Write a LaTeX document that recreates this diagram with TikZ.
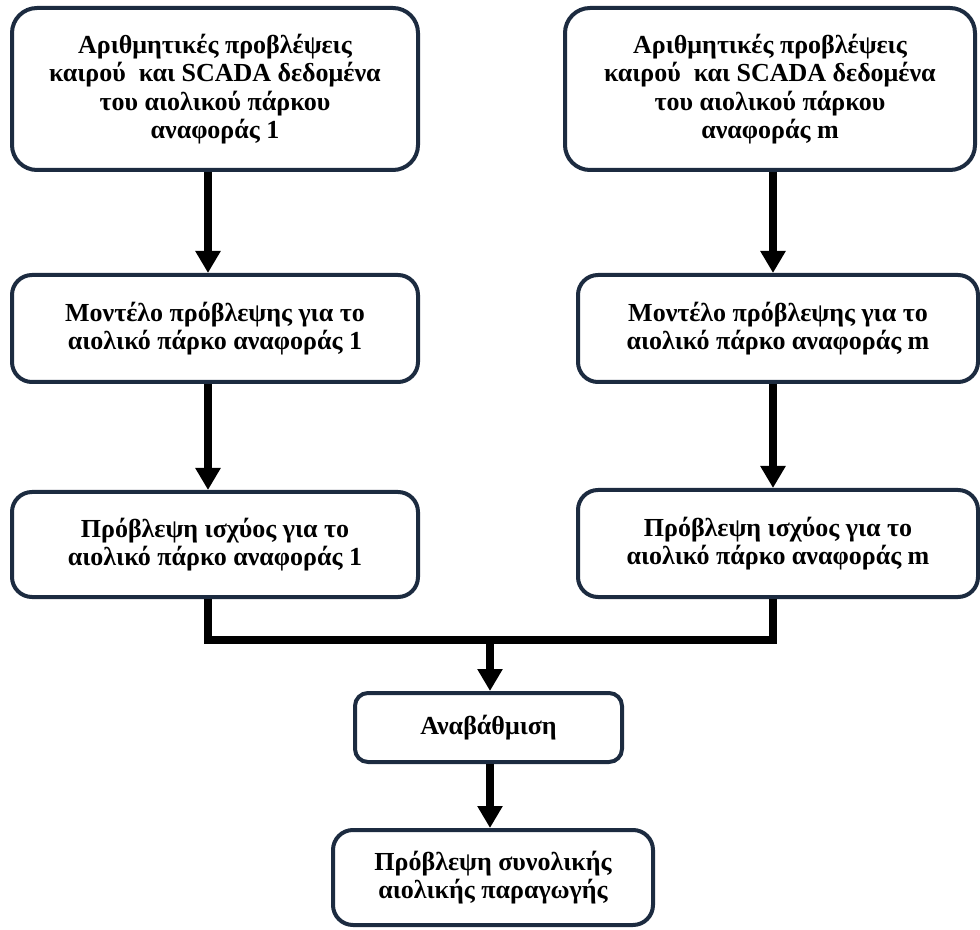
\documentclass[tikz,border=0pt]{standalone}
\usepackage{fontspec}
\setmainfont{Liberation Serif}
\usetikzlibrary{arrows.meta,calc}
\definecolor{boxline}{HTML}{1C2B40}
\begin{document}
\begin{tikzpicture}[x=0.5pt,y=-0.5pt,
  box/.style={draw=boxline, line width=2pt, fill=white, align=center,
    font=\bfseries\fontsize{13}{14.2}\selectfont, inner sep=0pt},
  flow/.style={line width=4pt, -{Triangle[length=11pt,width=12pt]}},
  busline/.style={line width=4pt, line join=miter}]
\useasboundingbox (0,0) rectangle (980,930);

% input data boxes
\node[box, rounded corners=12.5pt, minimum width=203pt, minimum height=81pt] (A1) at (215,89)
  {Αριθμητικές προβλέψεις\\καιρού \ και SCADA δεδομένα\\του αιολικού πάρκου\\αναφοράς 1};
\node[box, rounded corners=12.5pt, minimum width=205pt, minimum height=81pt] (Am) at (770,89)
  {Αριθμητικές προβλέψεις\\καιρού \ και SCADA δεδομένα\\του αιολικού πάρκου\\αναφοράς m};

% forecasting models
\node[box, rounded corners=10pt, minimum width=203pt, minimum height=53.5pt] (B1) at (215,328.5)
  {Μοντέλο πρόβλεψης για το\\αιολικό πάρκο αναφοράς 1};
\node[box, rounded corners=10pt, minimum width=200pt, minimum height=53.5pt] (Bm) at (778,328.5)
  {Μοντέλο πρόβλεψης για το\\αιολικό πάρκο αναφοράς m};

% power forecasts
\node[box, rounded corners=10pt, minimum width=203pt, minimum height=52.5pt] (C1) at (215,544.5)
  {Πρόβλεψη ισχύος για το\\αιολικό πάρκο αναφοράς 1};
\node[box, rounded corners=10pt, minimum width=200pt, minimum height=53.5pt] (Cm) at (778,543.5)
  {Πρόβλεψη ισχύος για το\\αιολικό πάρκο αναφοράς m};

% upscaling and total output
\node[box, rounded corners=6.5pt, minimum width=133.5pt, minimum height=34.5pt] (D) at (488.5,727.5)
  {Αναβάθμιση};
\node[box, rounded corners=10pt, minimum width=160pt, minimum height=47.5pt] (E) at (493,877.5)
  {Πρόβλεψη συνολικής\\αιολικής παραγωγής};

% connector columns
\coordinate (colL) at (208,0);
\coordinate (colR) at (773,0);
\coordinate (busL) at (208,640);
\coordinate (busR) at (773,640);
\coordinate (busM) at (490,640);

\draw[flow] (A1.south -| colL) -- (B1.north -| colL);
\draw[flow] (B1.south -| colL) -- (C1.north -| colL);
\draw[flow] (Am.south -| colR) -- (Bm.north -| colR);
\draw[flow] (Bm.south -| colR) -- (Cm.north -| colR);

\draw[busline] (C1.south -| busL) -- (busL) -- (busR) -- (Cm.south -| busR);
\draw[flow] (busM) -- (D.north -| busM);
\draw[flow] (D.south -| busM) -- (E.north -| busM);
\end{tikzpicture}
\end{document}
